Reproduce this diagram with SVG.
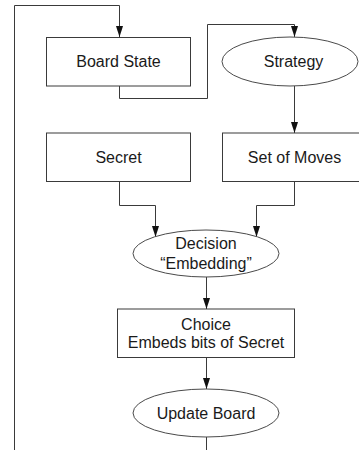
<svg xmlns="http://www.w3.org/2000/svg" width="359" height="450" viewBox="0 0 359 450">
<style>
.box{fill:#fff;stroke:#3a3a3a;stroke-width:1}
.ell{fill:#fff;stroke:#4a4a4a;stroke-width:1}
.lbl{font-family:"Liberation Sans",Arial,Helvetica,sans-serif;font-size:16px;fill:#1a1a1a;text-anchor:middle}
.wire{fill:none;stroke:#3a3a3a;stroke-width:1}
</style>
<defs>
<marker id="arr" markerUnits="userSpaceOnUse" markerWidth="11" markerHeight="8" refX="11" refY="4" orient="auto">
<path d="M0,0.5 L11,4 L0,7.5 z" fill="#111"/>
</marker>
</defs>
<rect width="359" height="450" fill="#fff"/>
<g id="connectors">
<polyline class="wire" points="14.5,450 14.5,5.5 119.5,5.5 119.5,37" marker-end="url(#arr)"/>
<polyline class="wire" points="119.5,86 119.5,98.5 207.5,98.5 207.5,24.5 294.5,24.5 294.5,37" marker-end="url(#arr)"/>
<line class="wire" x1="294.5" y1="86" x2="294.5" y2="133" marker-end="url(#arr)"/>
<polyline class="wire" points="119.5,181 119.5,205.5 155.5,205.5 155.5,237" marker-end="url(#arr)"/>
<polyline class="wire" points="294.5,181 294.5,205.5 256.5,205.5 256.5,237" marker-end="url(#arr)"/>
<line class="wire" x1="206.5" y1="277" x2="206.5" y2="309" marker-end="url(#arr)"/>
<line class="wire" x1="206.5" y1="357.5" x2="206.5" y2="389" marker-end="url(#arr)"/>
<line class="wire" x1="206.5" y1="437" x2="206.5" y2="450"/>
</g>
<g id="board-state">
<rect class="box" x="46.5" y="37.5" width="144" height="48.5"/>
<text class="lbl" x="118.5" y="66.5">Board State</text>
</g>
<g id="strategy">
<ellipse class="ell" cx="290" cy="61.5" rx="68" ry="24.5"/>
<text class="lbl" x="293.5" y="66.5">Strategy</text>
</g>
<g id="secret">
<rect class="box" x="46.5" y="133" width="144" height="48.5"/>
<text class="lbl" x="118.5" y="163.3">Secret</text>
</g>
<g id="set-of-moves">
<rect class="box" x="222.5" y="133" width="150" height="48.5"/>
<text class="lbl" x="294.5" y="163.3">Set of Moves</text>
</g>
<g id="decision">
<ellipse class="ell" cx="206" cy="253.5" rx="73" ry="23.5"/>
<text class="lbl" x="206" y="249.3">Decision</text>
<text class="lbl" x="206" y="268.7">“Embedding”</text>
</g>
<g id="choice">
<rect class="box" x="117.5" y="309" width="177" height="48.5"/>
<text class="lbl" x="206" y="330">Choice</text>
<text class="lbl" x="206" y="348.3">Embeds bits of Secret</text>
</g>
<g id="update-board">
<ellipse class="ell" cx="206" cy="413" rx="73" ry="24"/>
<text class="lbl" x="206" y="419.3">Update Board</text>
</g>
</svg>
